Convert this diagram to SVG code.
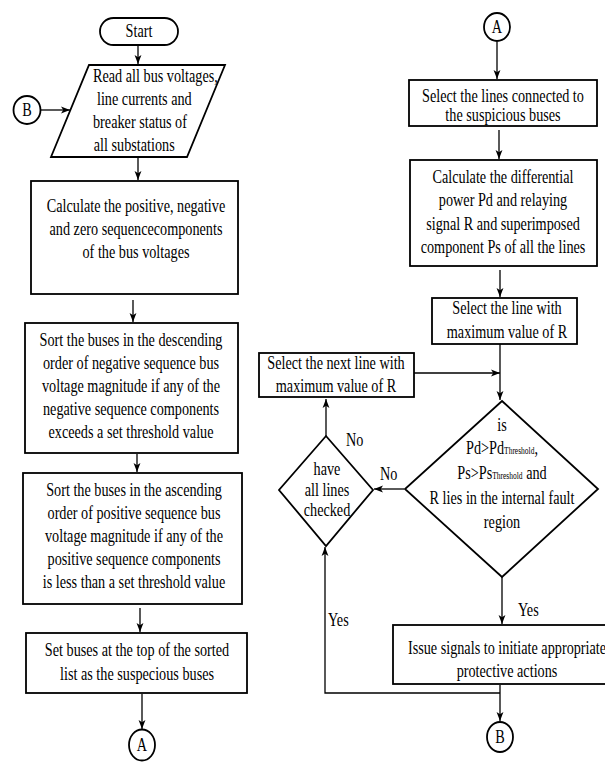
<svg xmlns="http://www.w3.org/2000/svg" width="605" height="763" viewBox="0 0 605 763">
<style>
.box{fill:#fff;stroke:#000;stroke-width:1.8}
.c{fill:none;stroke:#000;stroke-width:1.3}
text{font-family:"Liberation Serif","Times New Roman",serif;font-size:18px;fill:#000}
.m{text-anchor:middle}
.sub{font-size:9.5px;fill:#000}
</style>
<defs>
<marker id="ah" viewBox="0 0 10 10" refX="10" refY="5" markerWidth="9" markerHeight="9" markerUnits="userSpaceOnUse" orient="auto">
<path d="M0,1.2 L10,5 L0,8.8 L2.5,5 z" fill="#000"/>
</marker>
</defs>
<rect width="605" height="763" fill="#fff"/>

<g id="connectors">
<line class="c" x1="138" y1="45" x2="138" y2="64" marker-end="url(#ah)"/>
<line class="c" x1="41" y1="110" x2="70" y2="110" marker-end="url(#ah)"/>
<line class="c" x1="138" y1="158" x2="138" y2="180" marker-end="url(#ah)"/>
<line class="c" x1="133" y1="300" x2="133" y2="322" marker-end="url(#ah)"/>
<line class="c" x1="137" y1="454" x2="137" y2="472" marker-end="url(#ah)"/>
<line class="c" x1="140" y1="608" x2="140" y2="632" marker-end="url(#ah)"/>
<line class="c" x1="142" y1="694" x2="142" y2="729" marker-end="url(#ah)"/>
<line class="c" x1="497" y1="42" x2="497" y2="79" marker-end="url(#ah)"/>
<line class="c" x1="499" y1="130" x2="499" y2="159" marker-end="url(#ah)"/>
<line class="c" x1="500" y1="270" x2="500" y2="297" marker-end="url(#ah)"/>
<line class="c" x1="500" y1="344" x2="500" y2="400" marker-end="url(#ah)"/>
<line class="c" x1="413" y1="373" x2="500" y2="373" marker-end="url(#ah)"/>
<line class="c" x1="404" y1="489" x2="374" y2="489" marker-end="url(#ah)"/>
<line class="c" x1="326" y1="436" x2="326" y2="399" marker-end="url(#ah)"/>
<polyline class="c" points="500,693 325,693 325,547" marker-end="url(#ah)"/>
<line class="c" x1="502" y1="577" x2="502" y2="624" marker-end="url(#ah)"/>
<line class="c" x1="500" y1="685" x2="500" y2="721" marker-end="url(#ah)"/>
<g transform="translate(380 0) scale(0.79 1)"><text x="0" y="480">No</text></g>
<g transform="translate(346 0) scale(0.79 1)"><text x="0" y="446">No</text></g>
<g transform="translate(328 0) scale(0.79 1)"><text x="0" y="626">Yes</text></g>
<g transform="translate(518 0) scale(0.79 1)"><text x="0" y="616">Yes</text></g>
</g>

<g id="start">
<rect class="box" x="100" y="18" width="78" height="27" rx="13.5"/>
<g transform="translate(139 0) scale(0.79 1)"><text class="m" x="0" y="37">Start</text></g>
</g>

<g id="read">
<polygon class="box" points="89,65 225,65 187,157 51,157"/>
<g transform="translate(93 0) scale(0.79 1)">
<text x="0" y="82">Read all bus voltages,</text>
<text x="5" y="105">line currents and</text>
<text x="0" y="128">breaker status of</text>
<text x="1" y="151">all substations</text>
</g>
</g>

<g id="conB1">
<ellipse class="box" cx="27" cy="110" rx="13.5" ry="14"/>
<g transform="translate(27 0) scale(0.79 1)"><text class="m" x="0" y="116">B</text></g>
</g>

<g id="calcSeq">
<rect class="box" x="31" y="181" width="207" height="113"/>
<g transform="translate(136 0) scale(0.79 1)">
<text class="m" x="0" y="212">Calculate the positive, negative</text>
<text class="m" x="0" y="235">and zero sequencecomponents</text>
<text class="m" x="0" y="258">of the bus voltages</text>
</g>
</g>

<g id="sortDesc">
<rect class="box" x="25" y="323" width="213" height="130"/>
<g transform="translate(131 0) scale(0.79 1)">
<text class="m" x="0" y="346">Sort the buses in the descending</text>
<text class="m" x="0" y="369">order of negative sequence bus</text>
<text class="m" x="0" y="392">voltage magnitude if any of the</text>
<text class="m" x="0" y="415">negative sequence components</text>
<text class="m" x="0" y="438">exceeds a set threshold value</text>
</g>
</g>

<g id="sortAsc">
<rect class="box" x="23" y="473" width="219" height="131"/>
<g transform="translate(134 0) scale(0.79 1)">
<text class="m" x="0" y="496">Sort the buses in the ascending</text>
<text class="m" x="0" y="519">order of positive sequence bus</text>
<text class="m" x="0" y="542">voltage magnitude if any of the</text>
<text class="m" x="0" y="565">positive sequence components</text>
<text class="m" x="0" y="588">is less than a set threshold value</text>
</g>
</g>

<g id="setBuses">
<rect class="box" x="26" y="633" width="221" height="60"/>
<g transform="translate(137 0) scale(0.79 1)">
<text class="m" x="0" y="656">Set buses at the top of the sorted</text>
<text class="m" x="0" y="680">list as the suspecious buses</text>
</g>
</g>

<g id="conA1">
<ellipse class="box" cx="142" cy="745" rx="13" ry="15.5"/>
<g transform="translate(142 0) scale(0.79 1)"><text class="m" x="0" y="751">A</text></g>
</g>

<g id="conA2">
<ellipse class="box" cx="497" cy="27" rx="13" ry="14"/>
<g transform="translate(497 0) scale(0.79 1)"><text class="m" x="0" y="33">A</text></g>
</g>

<g id="selectLines">
<rect class="box" x="409" y="80" width="188" height="46"/>
<g transform="translate(503 0) scale(0.79 1)">
<text class="m" x="0" y="102">Select the lines connected to</text>
<text class="m" x="0" y="121">the suspicious buses</text>
</g>
</g>

<g id="calcDiff">
<rect class="box" x="410" y="160" width="187" height="106"/>
<g transform="translate(503 0) scale(0.79 1)">
<text class="m" x="0" y="183">Calculate the differential</text>
<text class="m" x="0" y="206">power Pd and relaying</text>
<text class="m" x="0" y="230">signal R and superimposed</text>
<text class="m" x="0" y="253">component Ps of all the lines</text>
</g>
</g>

<g id="selectMax">
<rect class="box" x="432" y="298" width="145" height="46"/>
<g transform="translate(507 0) scale(0.79 1)">
<text class="m" x="0" y="314">Select the line with</text>
<text class="m" x="0" y="338">maximum value of R</text>
</g>
</g>

<g id="selectNext">
<rect class="box" x="259" y="353" width="155" height="44"/>
<g transform="translate(336 0) scale(0.79 1)">
<text class="m" x="0" y="369">Select the next line with</text>
<text class="m" x="0" y="392">maximum value of R</text>
</g>
</g>

<g id="decisionFault">
<polygon class="box" points="502,401 598,489 502,577 405,489"/>
<g transform="translate(502 0) scale(0.79 1)">
<text class="m" x="0" y="431">is</text>
<text class="m" x="0" y="454">Pd&gt;Pd<tspan class="sub">Threshold</tspan>,</text>
<text class="m" x="0" y="479">Ps&gt;Ps<tspan class="sub">Threshold</tspan> and</text>
<text class="m" x="0" y="504">R lies in the internal fault</text>
<text class="m" x="0" y="528">region</text>
</g>
</g>

<g id="decisionChecked">
<polygon class="box" points="326,436 373,490 326,546 279,490"/>
<g transform="translate(327 0) scale(0.79 1)">
<text class="m" x="0" y="475">have</text>
<text class="m" x="0" y="496">all lines</text>
<text class="m" x="0" y="516">checked</text>
</g>
</g>

<g id="issue">
<rect class="box" x="393" y="625" width="240" height="59"/>
<g transform="translate(507 0) scale(0.79 1)">
<text class="m" x="0" y="654">Issue signals to initiate appropriate</text>
<text class="m" x="0" y="677">protective actions</text>
</g>
</g>

<g id="conB2">
<ellipse class="box" cx="500" cy="737" rx="13" ry="15"/>
<g transform="translate(500 0) scale(0.79 1)"><text class="m" x="0" y="743">B</text></g>
</g>
</svg>
